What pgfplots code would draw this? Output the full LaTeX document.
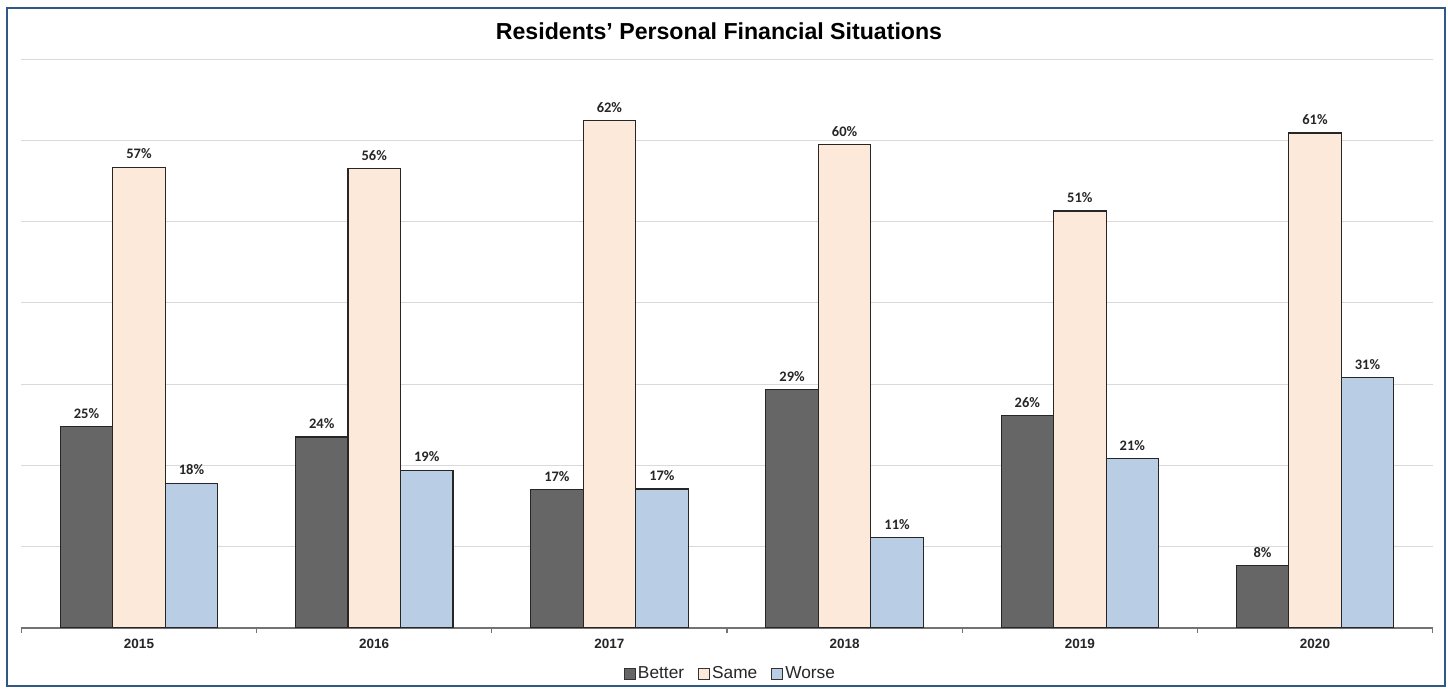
\documentclass[border=0pt]{standalone}
\usepackage{pgfplots}
\pgfplotsset{compat=1.18}
\usepackage{pgfplotstable}
\usepackage{fontspec}
\setmainfont{Liberation Sans}
\newfontfamily\calib{Carlito}
\definecolor{cBetter}{HTML}{666666}
\definecolor{cSame}{HTML}{FDE9D9}
\definecolor{cWorse}{HTML}{B9CDE5}
\definecolor{cFrame}{HTML}{2C5A85}
\pgfplotstableread{
x better bl same sl worse wl
0 24.8 25 56.7 57 17.8 18
1 23.5 24 56.5 56 19.4 19
2 17.0 17 62.4 62 17.1 17
3 29.3 29 59.5 60 11.1 11
4 26.1 26 51.3 51 20.8 21
5 7.7 8 60.9 61 30.8 31
}\data
\pgfplotsset{mylegend/.style={legend image code/.code={\draw[##1, draw=black!80, line width=0.5pt] (0pt,-2.75pt) rectangle (5.5pt,2.75pt);}}}
\begin{document}
\begin{tikzpicture}
\useasboundingbox (-10.7pt,-31pt) rectangle (713.3pt,314pt);
\fill[white] (-10.7pt,-31pt) rectangle (713.3pt,314pt);
\begin{axis}[at={(0,0)}, anchor=south west, scale only axis,
  width=705.6pt, height=284.5pt,
  xmin=-0.5, xmax=5.5, ymin=0, ymax=70,
  ybar=0pt, bar width=26.25pt,
  axis x line*=bottom, axis y line*=left,
  y axis line style={draw=none},
  x axis line style={draw=black!55, line width=0.6pt},
  ytick={10,20,...,70}, yticklabels={}, ytick style={draw=none},
  ymajorgrids, grid style={draw=black!15, line width=0.5pt},
  xtick={0,...,5}, xticklabels={2015,2016,2017,2018,2019,2020},
  major x tick style={draw=none},
  minor xtick={-0.5,0.5,...,5.5}, minor tick length=2.5pt, tick align=outside,
  minor x tick style={draw=black!55, line width=0.6pt},
  xticklabel style={font=\fontsize{6.75}{8}\selectfont\bfseries, text=black!85, yshift=2.5pt},
  nodes near coords={\pgfplotspointmeta\%}, point meta=explicit symbolic,
  every node near coord/.append style={font=\calib\bfseries\fontsize{7.25}{8}\selectfont, text=black!85, yshift=0.5pt},
  legend style={at={(0.5,-0.081)}, anchor=center, xshift=1.75pt, draw=none, fill=none,
    nodes={inner xsep=1pt},
    /tikz/every even column/.append style={column sep=6pt},
    font=\fontsize{8.65}{10}\selectfont, text=black!85},
  legend columns=3,
  ]
\addplot[fill=cBetter, draw=black!85, line width=0.55pt, mylegend] table[x=x,y=better,meta=bl]{\data};
\addplot[fill=cSame, draw=black!85, line width=0.55pt, mylegend] table[x=x,y=same,meta=sl]{\data};
\addplot[fill=cWorse, draw=black!85, line width=0.55pt, mylegend] table[x=x,y=worse,meta=wl]{\data};
\legend{Better,Same,Worse}
\end{axis}
\draw[cFrame, line width=0.9pt] (-7.2pt,-29pt) rectangle (711.8pt,310pt);
\node at (348.8pt,298.5pt) {\fontsize{11.57}{14}\selectfont\bfseries Residents’ Personal Financial Situations};
\end{tikzpicture}
\end{document}
